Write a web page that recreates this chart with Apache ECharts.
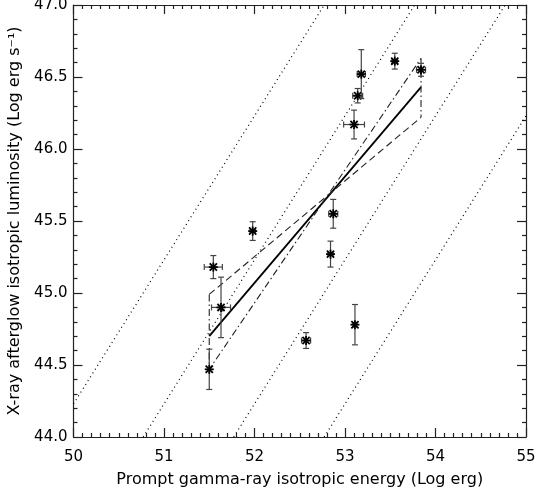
<!DOCTYPE html>
<html>
<head>
<meta charset="utf-8">
<script src="https://cdn.jsdelivr.net/npm/echarts@6/dist/echarts.min.js"></script>
<style>
html,body{margin:0;padding:0;background:#fff;}
#chart{width:536px;height:495px;}
</style>
</head>
<body>
<div id="chart"></div>
<script>
// Data
const energy    = [51.50, 51.545, 51.63, 51.98, 52.57, 52.84, 52.87, 53.11, 53.10, 53.14, 53.18, 53.55, 53.84];
const lum       = [44.47, 45.18, 44.90, 45.43, 44.67, 45.27, 45.55, 44.78, 46.17, 46.37, 46.52, 46.61, 46.55];
const energyErr = [0.00, 0.10, 0.105, 0.03, 0.05, 0.03, 0.05, 0.02, 0.115, 0.055, 0.045, 0.03, 0.05];
const lumErr    = [0.14, 0.08, 0.21, 0.065, 0.055, 0.09, 0.10, 0.14, 0.10, 0.05, 0.17, 0.055, 0.045];

// Best fit (solid)
const fitX = [51.50, 53.84];
const fitY = [44.70, 46.43];
// Confidence bow-tie
const bowDashDotX = [51.50, 51.50, 53.84, 53.84];
const bowDashDotY = [44.99, 44.47, 46.63, 46.22];
const bowDashX = [51.50, 53.84];
const bowDashY = [44.99, 46.22];

// Dotted reference lines (start and end points)
const isoStart = [[50.00, 44.23], [50.77, 44.00], [51.77, 44.00], [52.77, 44.00]];
const isoEnd   = [[52.77, 47.00], [53.77, 47.00], [54.77, 47.00], [55.00, 46.23]];

// Axis ranges / ticks
const xMin = 50, xMax = 55, xStep = 1;
const yMin = 44, yMax = 47, yStep = 0.5;

const xTitle = 'Prompt gamma-ray isotropic energy (Log erg)';
const yTitle = 'X-ray afterglow isotropic luminosity (Log erg s\u207B\u00B9)';

const FONT = 'DejaVu Sans';
const AX = '#222';

function pairs(xs, ys){ return xs.map((x,i)=>[x, ys[i]]); }

const pointData = energy.map((e,i)=>[e, lum[i], energyErr[i], lumErr[i]]);

function renderPoint(params, api){
  const x = api.value(0), y = api.value(1), ex = api.value(2), ey = api.value(3);
  const c = api.coord([x, y]);
  const children = [];
  const cap = 3;
  const ebStyle = {stroke: '#444', lineWidth: 1.2};
  if (ey > 0){
    const t = api.coord([x, y + ey]), b = api.coord([x, y - ey]);
    children.push({type:'line', shape:{x1:t[0], y1:t[1], x2:b[0], y2:b[1]}, style:ebStyle});
    children.push({type:'line', shape:{x1:t[0]-cap, y1:t[1], x2:t[0]+cap, y2:t[1]}, style:ebStyle});
    children.push({type:'line', shape:{x1:b[0]-cap, y1:b[1], x2:b[0]+cap, y2:b[1]}, style:ebStyle});
  }
  if (ex > 0){
    const l = api.coord([x - ex, y]), r = api.coord([x + ex, y]);
    children.push({type:'line', shape:{x1:l[0], y1:l[1], x2:r[0], y2:r[1]}, style:ebStyle});
    children.push({type:'line', shape:{x1:l[0], y1:l[1]-cap, x2:l[0], y2:l[1]+cap}, style:ebStyle});
    children.push({type:'line', shape:{x1:r[0], y1:r[1]-cap, x2:r[0], y2:r[1]+cap}, style:ebStyle});
  }
  const s = 4.5, d = 3.6;
  const st = {stroke:'#000', lineWidth:1.8};
  children.push({type:'line', shape:{x1:c[0]-s, y1:c[1], x2:c[0]+s, y2:c[1]}, style:st});
  children.push({type:'line', shape:{x1:c[0], y1:c[1]-s, x2:c[0], y2:c[1]+s}, style:st});
  children.push({type:'line', shape:{x1:c[0]-d, y1:c[1]-d, x2:c[0]+d, y2:c[1]+d}, style:st});
  children.push({type:'line', shape:{x1:c[0]-d, y1:c[1]+d, x2:c[0]+d, y2:c[1]-d}, style:st});
  return {type:'group', children};
}

const baseAxis = {
  axisLine:{show:true, lineStyle:{color:AX, width:1.2}},
  axisTick:{show:true, inside:true, length:9, lineStyle:{color:AX, width:1.2}},
  minorTick:{show:true, length:4, lineStyle:{color:AX, width:1.2}},
  splitLine:{show:false},
  minorSplitLine:{show:false}
};

const option = {
  animation:false,
  backgroundColor:'#fff',
  grid:{left:73.5, right:10, top:5, bottom:58, containLabel:false, outerBoundsMode:'none'},
  xAxis:[
    Object.assign({}, baseAxis, {
      type:'value', min:xMin, max:xMax, interval:xStep, position:'bottom',
      minorTick:Object.assign({}, baseAxis.minorTick, {splitNumber:10}),
      axisLabel:{color:'#000', fontFamily:FONT, fontSize:15, margin:13},
      name:xTitle, nameLocation:'middle', nameGap:35,
      nameTextStyle:{color:'#000', fontFamily:FONT, fontSize:16}
    }),
    Object.assign({}, baseAxis, {
      type:'value', min:xMin, max:xMax, interval:xStep, position:'top',
      minorTick:Object.assign({}, baseAxis.minorTick, {splitNumber:10}),
      axisLabel:{show:false}
    })
  ],
  yAxis:[
    Object.assign({}, baseAxis, {
      type:'value', min:yMin, max:yMax, interval:yStep, position:'left',
      minorTick:Object.assign({}, baseAxis.minorTick, {splitNumber:5}),
      axisLabel:{color:'#000', fontFamily:FONT, fontSize:15, margin:6, formatter:v=>v.toFixed(1)},
      name:yTitle, nameLocation:'middle', nameGap:50,
      nameTextStyle:{color:'#000', fontFamily:FONT, fontSize:16}
    }),
    Object.assign({}, baseAxis, {
      type:'value', min:yMin, max:yMax, interval:yStep, position:'right',
      minorTick:Object.assign({}, baseAxis.minorTick, {splitNumber:5}),
      axisLabel:{show:false}
    })
  ],
  series:[
    ...isoStart.map((p,i)=>({
      type:'line', data:[p, isoEnd[i]], symbol:'none', clip:true, silent:true,
      lineStyle:{color:'#000', width:1.2, type:[1,3.5]}
    })),
    {type:'line', data:pairs(fitX, fitY), symbol:'none', lineStyle:{color:'#000', width:1.8}},
    {type:'line', data:pairs(bowDashDotX, bowDashDotY), symbol:'none', lineStyle:{color:'#222', width:1.1, type:[7,3,1.5,3]}},
    {type:'line', data:pairs(bowDashX, bowDashY), symbol:'none', lineStyle:{color:'#222', width:1.1, type:[7,4]}},
    {type:'custom', data:pointData, renderItem:renderPoint, encode:{x:0, y:1}, clip:true, z:5}
  ]
};

const chart = echarts.init(document.getElementById('chart'), null, {renderer:'canvas'});
chart.setOption(option);
</script>
</body>
</html>
